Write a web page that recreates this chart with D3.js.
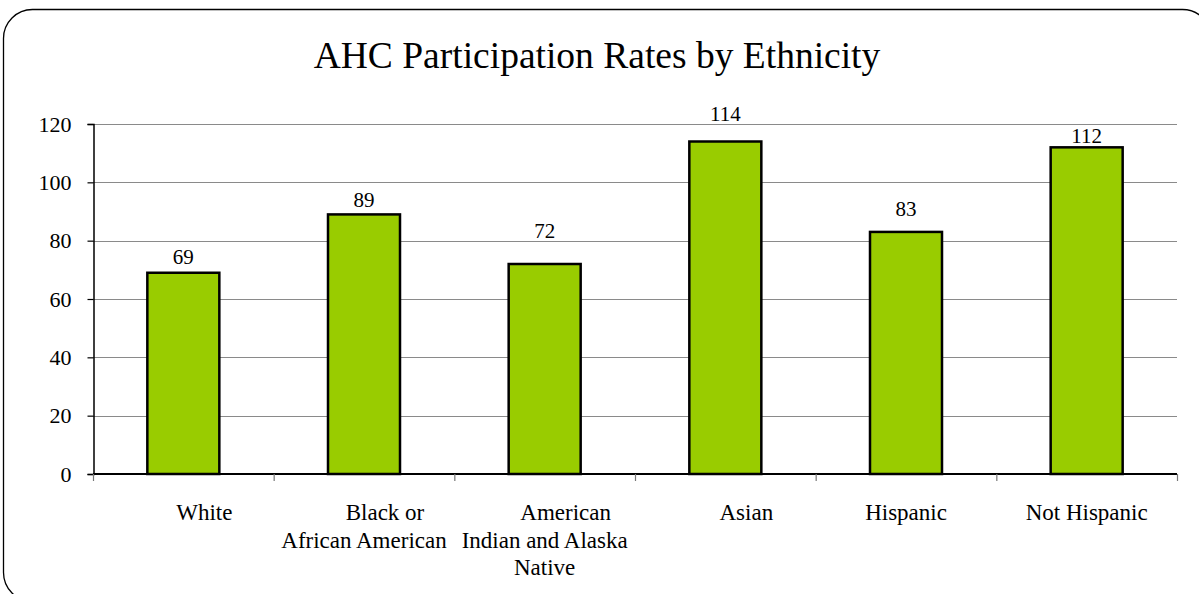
<!DOCTYPE html>
<html>
<head>
<meta charset="utf-8">
<script src="https://cdn.jsdelivr.net/npm/d3@7"></script>
<style>
  html, body { margin: 0; padding: 0; background: #fff; }
  svg { display: block; }
  text { font-family: "Liberation Serif", "Times New Roman", serif; fill: #000; }
</style>
</head>
<body>
<svg id="chart" width="1199" height="594"></svg>
<script>
const categories = [
  ["White"],
  ["Black or", "African American"],
  ["American", "Indian and Alaska", "Native"],
  ["Asian"],
  ["Hispanic"],
  ["Not Hispanic"]
];
const values = [69, 89, 72, 114, 83, 112];
const yTicks = [0, 20, 40, 60, 80, 100, 120];
const title = "AHC Participation Rates by Ethnicity";

const FONT = '"Liberation Serif", "Times New Roman", serif';
const svg = d3.select("#chart");
const margin = { left: 93, right: 1177, top: 124, bottom: 474 };

// layout nudges (as placed in the original slide)
const labelGap = [9, 7, 26, 21, 16, 4];        // px between data label baseline and bar top
const firstLineShift = [21, 21, 21, 21, 0, 0];  // px shift of first category line

// frame
svg.append("rect")
  .attr("x", 3.5).attr("y", 9.5)
  .attr("width", 1208).attr("height", 592)
  .attr("rx", 29).attr("ry", 29)
  .attr("fill", "#fff").attr("stroke", "#000").attr("stroke-width", 1.3);

// title
svg.append("text")
  .attr("x", 597).attr("y", 68)
  .attr("text-anchor", "middle")
  .attr("font-family", FONT)
  .style("font-size", "37.5px")
  .text(title);

const x = d3.scaleBand()
  .domain(d3.range(categories.length))
  .range([margin.left, margin.right])
  .paddingInner(0).paddingOuter(0);

const y = d3.scaleLinear().domain([0, 120]).range([margin.bottom, margin.top]);

// gridlines
svg.append("g")
  .selectAll("line")
  .data(yTicks.filter(d => d !== 0))
  .join("line")
  .attr("x1", margin.left).attr("x2", margin.right)
  .attr("y1", d => Math.round(y(d)) + 0.5).attr("y2", d => Math.round(y(d)) + 0.5)
  .attr("stroke", "#8a8a8a").attr("stroke-width", 1.2);

// y axis
const yAxis = d3.axisLeft(y).tickValues(yTicks).tickSize(6).tickPadding(16);
const gy = svg.append("g")
  .attr("transform", `translate(${margin.left + 0.5},0)`)
  .attr("font-family", FONT)
  .call(yAxis);
gy.attr("font-family", FONT);
gy.select(".domain").attr("stroke", "#000").attr("stroke-width", 1.5);
gy.selectAll(".tick line").attr("stroke", "#000").attr("stroke-width", 1.2);
gy.selectAll(".tick text")
  .attr("font-family", FONT)
  .style("font-size", "22px").attr("fill", "#000");

// bars
const barW = 72;
svg.append("g")
  .selectAll("rect")
  .data(values)
  .join("rect")
  .attr("x", (d, i) => x(i) + x.bandwidth() / 2 - barW / 2)
  .attr("y", d => y(d))
  .attr("width", barW)
  .attr("height", d => y(0) - y(d))
  .attr("fill", "#99CC00")
  .attr("stroke", "#000").attr("stroke-width", 2.5);

// x axis
const xTickPos = d3.range(categories.length + 1).map(i => margin.left + i * x.step());
const gx = svg.append("g");
gx.append("line")
  .attr("x1", margin.left).attr("x2", margin.right)
  .attr("y1", y(0)).attr("y2", y(0))
  .attr("stroke", "#000").attr("stroke-width", 1.8);
gx.selectAll("line.tk")
  .data(xTickPos)
  .join("line").attr("class", "tk")
  .attr("x1", d => d + 0.5).attr("x2", d => d + 0.5)
  .attr("y1", y(0)).attr("y2", y(0) + 7)
  .attr("stroke", "#777").attr("stroke-width", 1.2);

// category labels
const lab = svg.append("g")
  .selectAll("text")
  .data(categories.map((lines, i) => ({ lines, i })))
  .join("text")
  .attr("text-anchor", "middle")
  .attr("font-family", FONT)
  .style("font-size", "23px")
  .attr("transform", d => `translate(${x(d.i) + x.bandwidth() / 2},520)`);
lab.selectAll("tspan")
  .data(d => d.lines.map((t, j) => ({ t, j, i: d.i })))
  .join("tspan")
  .attr("x", d => d.j === 0 ? firstLineShift[d.i] : 0)
  .attr("y", d => d.j * 27.5)
  .text(d => d.t);

// data labels
svg.append("g")
  .selectAll("text")
  .data(values)
  .join("text")
  .attr("x", (d, i) => x(i) + x.bandwidth() / 2)
  .attr("y", (d, i) => y(d) - labelGap[i])
  .attr("text-anchor", "middle")
  .attr("font-family", FONT)
  .style("font-size", "21px")
  .text(d => d);
</script>
</body>
</html>
